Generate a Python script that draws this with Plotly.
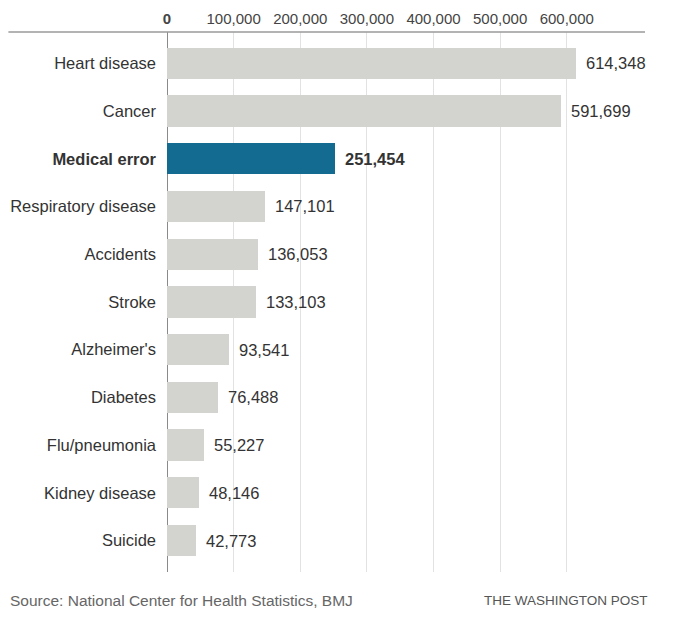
import plotly.graph_objects as go

causes = ["Heart disease", "Cancer", "Medical error", "Respiratory disease", "Accidents",
          "Stroke", "Alzheimer's", "Diabetes", "Flu/pneumonia", "Kidney disease", "Suicide"]
deaths = [614348, 591699, 251454, 147101, 136053, 133103, 93541, 76488, 55227, 48146, 42773]
highlight = "Medical error"
tick_vals = [0, 100000, 200000, 300000, 400000, 500000, 600000]
tick_text = ["<b>0</b>", "100,000", "200,000", "300,000", "400,000", "500,000", "600,000"]
source_text = "Source: National Center for Health Statistics, BMJ"
credit_text = "THE WASHINGTON POST"

GREY = "#d3d3d0"
BLUE = "#146b91"
FONT = "Liberation Sans, Arial, sans-serif"

OFF = 8  # page body margin offset
W, H = 682 - OFF, 625 - OFF
L, T = 166.7 - OFF, 32 - OFF
R = 682 - 645
B = 625 - 572
plot_w = W - L - R
plot_h = H - T - B
px_per_unit = 400 / 600000

colors = [BLUE if c == highlight else GREY for c in causes]
ylabels = [f"<b>{c}</b>" if c == highlight else c for c in causes]

fig = go.Figure()
fig.add_trace(go.Bar(
    x=deaths, y=list(range(len(causes))), orientation="h",
    marker=dict(color=colors, line=dict(width=0)),
    width=0.656, hoverinfo="skip",
))

for i, (c, v) in enumerate(zip(causes, deaths)):
    txt = f"{v:,}"
    if c == highlight:
        txt = f"<b>{txt}</b>"
    fig.add_annotation(x=v, y=i, text=txt, xanchor="left", yanchor="middle",
                       xshift=8, showarrow=False,
                       font=dict(size=16.5, color="#333333", family=FONT))

fig.add_shape(type="line", xref="paper", yref="paper",
              x0=(8 - 166.7) / plot_w, x1=1, y0=1, y1=1,
              line=dict(color="#9a9a9a", width=1.5))

foot_y = -(600 - 572) / plot_h
fig.add_annotation(xref="paper", yref="paper", x=(8 - 166.7) / plot_w, y=foot_y,
                   text=source_text, xanchor="left", yanchor="middle", showarrow=False,
                   font=dict(size=15.5, color="#666666", family=FONT))
fig.add_annotation(xref="paper", yref="paper", x=(650 - 166.7) / plot_w, y=foot_y,
                   text=credit_text, xanchor="right", yanchor="middle", showarrow=False,
                   font=dict(size=13.5, color="#555555", family=FONT))

fig.update_layout(
    width=W, height=H,
    margin=dict(l=L, r=R, t=T, b=B, autoexpand=False),
    paper_bgcolor="white", plot_bgcolor="white",
    showlegend=False, bargap=0,
    font=dict(family=FONT, color="#333333"),
    xaxis=dict(side="top", range=[0, plot_w / px_per_unit], tickvals=tick_vals, ticktext=tick_text,
               showgrid=True, gridcolor="#e2e2e2", gridwidth=1,
               zeroline=True, zerolinecolor="#8a8a8a", zerolinewidth=1.2,
               showline=False, ticks="", ticklabelstandoff=4,
               tickfont=dict(size=15, color="#444444", family=FONT), fixedrange=True),
    yaxis=dict(range=[len(causes) - 1 + 0.66, -0.656], tickvals=list(range(len(causes))), ticktext=ylabels,
               showgrid=False, zeroline=False, showline=False, ticks="", ticklabelstandoff=10,
               tickfont=dict(size=16.5, color="#333333", family=FONT), fixedrange=True),
)

fig.write_html("out.html")
